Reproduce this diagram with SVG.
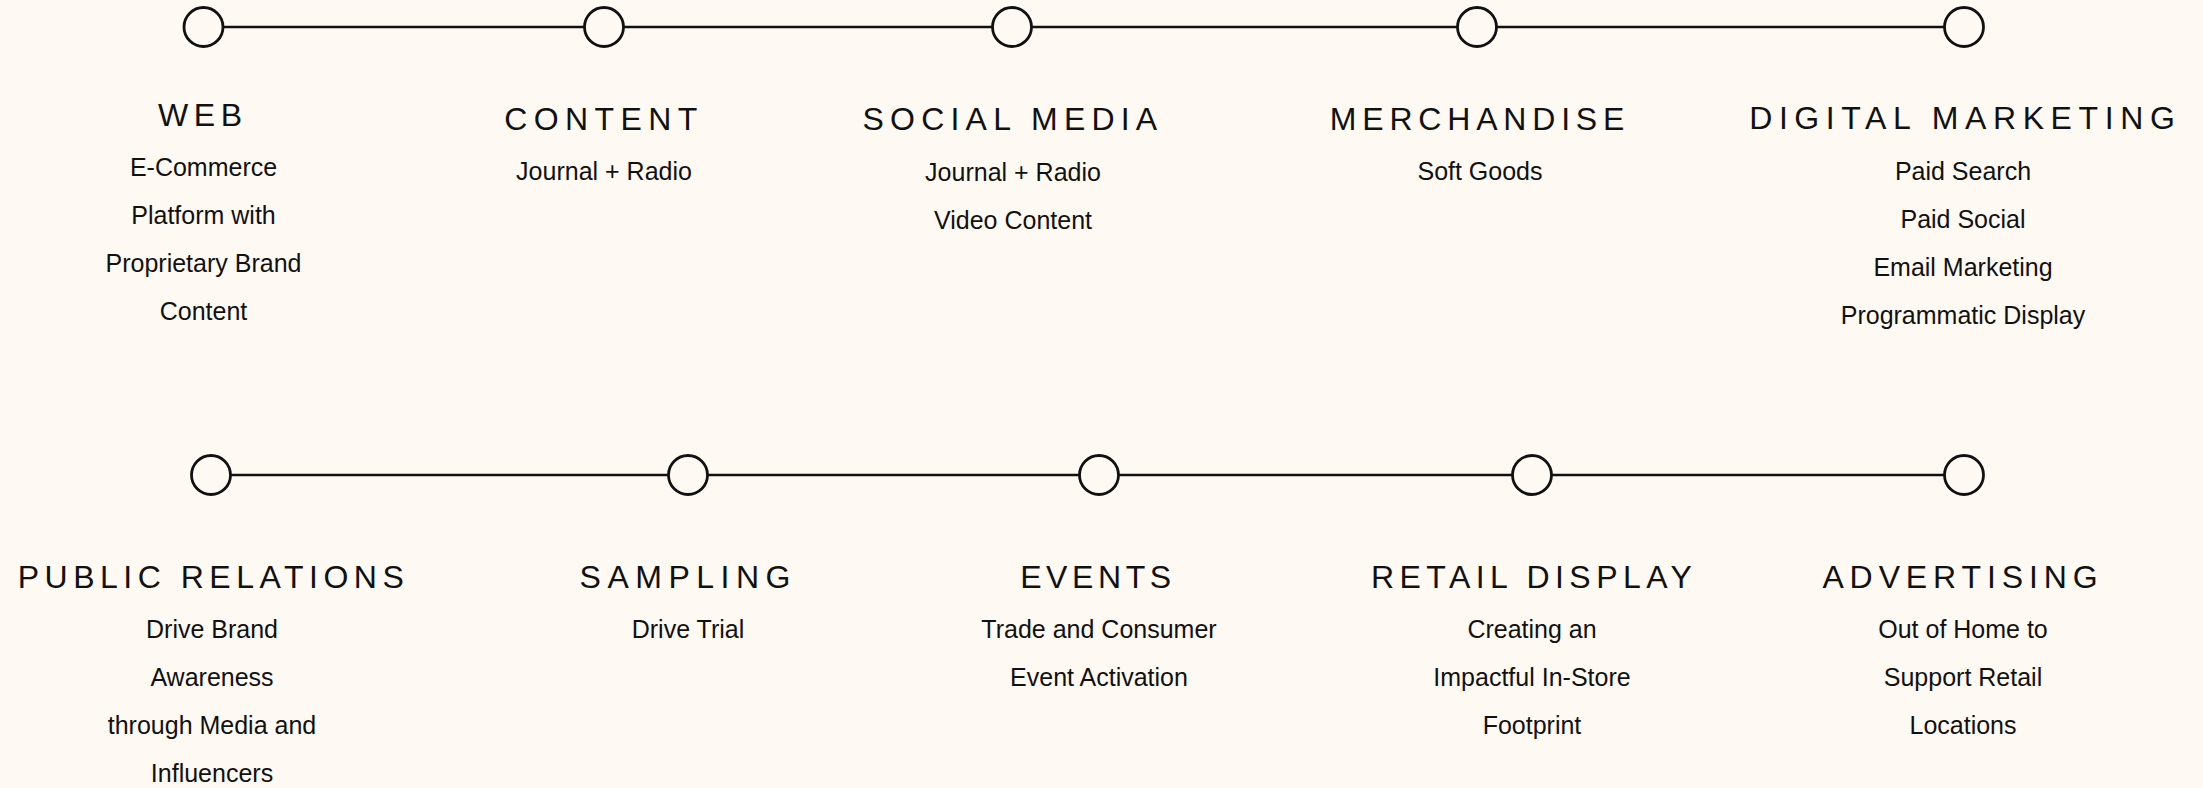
<svg xmlns="http://www.w3.org/2000/svg" width="2203" height="788" viewBox="0 0 2203 788">
<style>
.bg{fill:#FEF9F3}
.ln{stroke:#111;stroke-width:2.6;fill:none}
.dot{fill:#FEF9F3;stroke:#111;stroke-width:2.8}
.t{font-family:"Liberation Sans",Arial,sans-serif;font-size:32px;fill:#111;text-anchor:middle}
.b{font-family:"Liberation Sans",Arial,sans-serif;font-size:25px;fill:#111;text-anchor:middle}
</style>
<rect class="bg" x="0" y="0" width="2203" height="788"/>
<g id="connectors">
<line class="ln" x1="223" y1="27" x2="584" y2="27"/>
<line class="ln" x1="624" y1="27" x2="992" y2="27"/>
<line class="ln" x1="1032" y1="27" x2="1457" y2="27"/>
<line class="ln" x1="1497" y1="27" x2="1944" y2="27"/>
<line class="ln" x1="231" y1="475" x2="668" y2="475"/>
<line class="ln" x1="708" y1="475" x2="1079" y2="475"/>
<line class="ln" x1="1119" y1="475" x2="1512" y2="475"/>
<line class="ln" x1="1552" y1="475" x2="1944" y2="475"/>
</g>
<g id="web">
<circle class="dot" cx="203.5" cy="27" r="19.5"/>
<text class="t" x="202.8" y="126" letter-spacing="5.5">WEB</text>
<text class="b" x="203.5" y="176">E-Commerce</text>
<text class="b" x="203.5" y="224">Platform with</text>
<text class="b" x="203.5" y="272">Proprietary Brand</text>
<text class="b" x="203.5" y="320">Content</text>
</g>
<g id="content">
<circle class="dot" cx="604" cy="27" r="19.5"/>
<text class="t" x="604" y="130" letter-spacing="6.4">CONTENT</text>
<text class="b" x="604" y="180">Journal + Radio</text>
</g>
<g id="social-media">
<circle class="dot" cx="1012" cy="27" r="19.5"/>
<text class="t" x="1013" y="130" letter-spacing="6.2">SOCIAL MEDIA</text>
<text class="b" x="1013" y="181">Journal + Radio</text>
<text class="b" x="1013" y="229">Video Content</text>
</g>
<g id="merchandise">
<circle class="dot" cx="1477" cy="27" r="19.5"/>
<text class="t" x="1480" y="130" letter-spacing="5.8">MERCHANDISE</text>
<text class="b" x="1480" y="180">Soft Goods</text>
</g>
<g id="digital-marketing">
<circle class="dot" cx="1964" cy="27" r="19.5"/>
<text class="t" x="1965.3" y="129" letter-spacing="6.6">DIGITAL MARKETING</text>
<text class="b" x="1963" y="180">Paid Search</text>
<text class="b" x="1963" y="228">Paid Social</text>
<text class="b" x="1963" y="276">Email Marketing</text>
<text class="b" x="1963" y="324">Programmatic Display</text>
</g>
<g id="public-relations">
<circle class="dot" cx="211" cy="475" r="19.5"/>
<text class="t" x="213.5" y="588" letter-spacing="5.5">PUBLIC RELATIONS</text>
<text class="b" x="212" y="638">Drive Brand</text>
<text class="b" x="212" y="686">Awareness</text>
<text class="b" x="212" y="734">through Media and</text>
<text class="b" x="212" y="782">Influencers</text>
</g>
<g id="sampling">
<circle class="dot" cx="688" cy="475" r="19.5"/>
<text class="t" x="688.3" y="588" letter-spacing="6.5">SAMPLING</text>
<text class="b" x="688" y="638">Drive Trial</text>
</g>
<g id="events">
<circle class="dot" cx="1099" cy="475" r="19.5"/>
<text class="t" x="1098" y="588" letter-spacing="4.6">EVENTS</text>
<text class="b" x="1099" y="638">Trade and Consumer</text>
<text class="b" x="1099" y="686">Event Activation</text>
</g>
<g id="retail-display">
<circle class="dot" cx="1532" cy="475" r="19.5"/>
<text class="t" x="1534.2" y="588" letter-spacing="5.45">RETAIL DISPLAY</text>
<text class="b" x="1532" y="638">Creating an</text>
<text class="b" x="1532" y="686">Impactful In-Store</text>
<text class="b" x="1532" y="734">Footprint</text>
</g>
<g id="advertising">
<circle class="dot" cx="1964" cy="475" r="19.5"/>
<text class="t" x="1963" y="588" letter-spacing="5.9">ADVERTISING</text>
<text class="b" x="1963" y="638">Out of Home to</text>
<text class="b" x="1963" y="686">Support Retail</text>
<text class="b" x="1963" y="734">Locations</text>
</g>
</svg>
